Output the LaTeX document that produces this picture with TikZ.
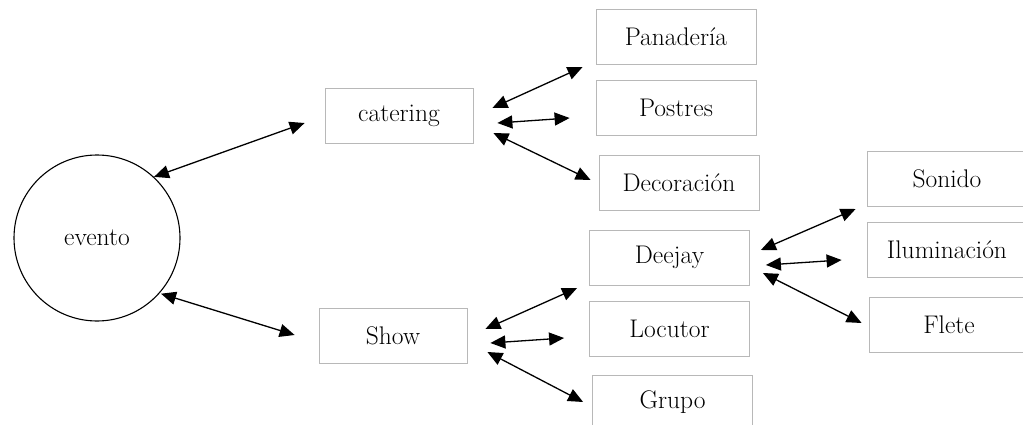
\documentclass[tikz,border=0pt]{standalone}
\usepackage{tikz}
\usetikzlibrary{calc,arrows.meta,positioning}

\tikzset{
  caja/.style={draw=black!28, line width=0.8pt, rectangle, minimum height=55pt, font=\fontsize{25.5}{30}\selectfont},
  padre/.style={caja, minimum width=148pt},
  hijo/.style={caja, minimum width=160pt},
  enlace/.style={line width=1.3pt, {Triangle[length=15pt,width=13pt]}-{Triangle[length=15pt,width=13pt]}}
}

\begin{document}
\begin{tikzpicture}[x=1pt,y=-1pt]
  \path[use as bounding box, clip] (0,0) rectangle (1023,425);
  % Evento
  \node[draw, circle, line width=1.1pt, minimum size=166pt, font=\fontsize{25.5}{30}\selectfont] (ev) at (97,238) {evento};
  % Primer nivel
  \node[padre] (cat) at (399,115.5) {catering};
  \node[padre] (show) at (393,335.5) {Show};
  % Catering
  \node[hijo] (pan) at (676,36.5) {Panadería};
  \node[hijo] (pos) at (676,108) {Postres};
  \node[hijo] (dec) at (679,182.5) {Decoración};
  % Show
  \node[hijo] (dj) at (669.5,257.5) {Deejay};
  \node[hijo] (loc) at (669.5,328.5) {Locutor};
  \node[hijo] (gru) at (672.5,402.5) {Grupo};
  % Deejay
  \node[hijo] (son) at (947,179) {Sonido};
  \node[hijo] (ilu) at (947,250) {Iluminación};
  \node[hijo] (fle) at (949,324.5) {Flete};

  % Evento - primer nivel
  \draw[enlace] (ev.47) -- ($(cat.west)+(-20,7.5)$);
  \draw[enlace] ($(ev.-40)+(0,2)$) -- ($(show.west)+(-24,-0.5)$);
  % Catering - hijos
  \draw[enlace] ($(cat.east)+(19,-7.5)$) -- ($(pan.west)+(-13,30.5)$);
  \draw[enlace] ($(cat.east)+(24,7.5)$) -- ($(pos.west)+(-26,10)$);
  \draw[enlace] ($(cat.east)+(20,17.5)$) -- ($(dec.west)+(-8,-2.5)$);
  % Show - hijos
  \draw[enlace] ($(show.east)+(18,-6.5)$) -- ($(dj.west)+(-12,30.5)$);
  \draw[enlace] ($(show.east)+(23,7.5)$) -- ($(loc.west)+(-25,9.5)$);
  \draw[enlace] ($(show.east)+(20,16.5)$) -- ($(gru.west)+(-9,-0.5)$);
  % Deejay - hijos
  \draw[enlace] ($(dj.east)+(11,-7.5)$) -- ($(son.west)+(-11,30)$);
  \draw[enlace] ($(dj.east)+(16,7.5)$) -- ($(ilu.west)+(-25,10)$);
  \draw[enlace] ($(dj.east)+(13,15.5)$) -- ($(fle.west)+(-7,-1.5)$);
\end{tikzpicture}
\end{document}
